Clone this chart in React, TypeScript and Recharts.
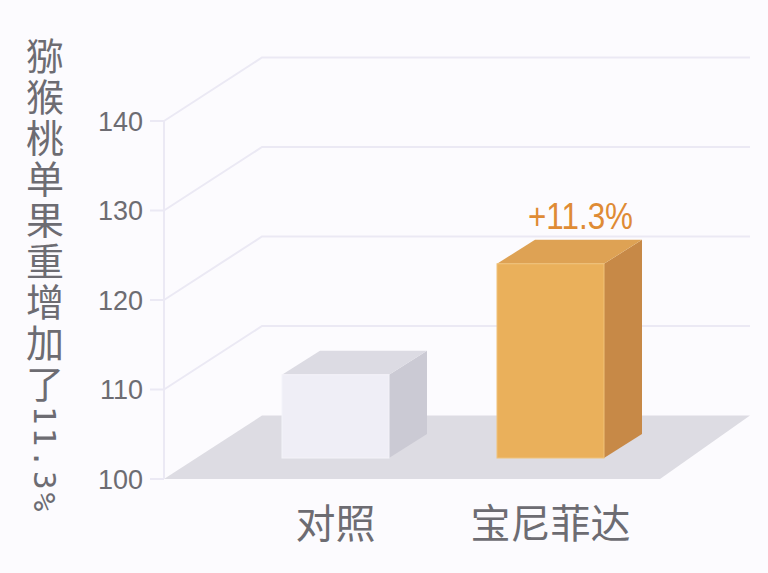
import React from 'react';
import { BarChart, Bar, XAxis, YAxis, CartesianGrid, LabelList } from 'recharts';

// ---- data ----
const categories = ['对照', '宝尼菲达'];
const fruitWeight = [109.3, 121.7];
const barLabels = ['', '+11.3%'];
const yTicks = [100, 110, 120, 130, 140];
const yTitleCJK = '猕猴桃单果重增加了';
const yTitleNum = '11.3%';

// ---- styles ----
const faceColors = [
  { front: '#efeef6', top: '#dcdbe3', side: '#cbcad4', edge: '#f4f3f9' },
  { front: '#eab05b', top: '#dea254', side: '#c78947', edge: '#f0c27a' },
];
const GRID = '#ebe9f4';
const FLOOR = '#dddce3';
const TEXT = '#6d6c72';
const ORANGE = '#df8b35';
const BG = '#fcfbfe';

// perspective offsets
const WALL_DX = 98;
const WALL_DY = -63.5;
const WALL_DX_RIGHT = 90;
const SHIFT_X = 32;
const SHIFT_Y = -21;
const DEPTH_X = 38;
const DEPTH_Y = -24;

const data = categories.map((name, i) => ({ name, value: fruitWeight[i], label: barLabels[i] }));

const GridLine = (props: any) => {
  const { x1, x2, y1, index } = props;
  const bottom = props.y != null && props.height != null ? props.y + props.height : null;
  const isFloor = bottom != null ? Math.abs(y1 - bottom) < 0.6 : index === 0;
  if (isFloor) {
    const pts = [
      [x1, y1],
      [x2, y1],
      [x2 + WALL_DX_RIGHT, y1 + WALL_DY],
      [x1 + WALL_DX, y1 + WALL_DY],
    ]
      .map((p) => p.join(','))
      .join(' ');
    return <polygon key={`floor-${index}`} points={pts} fill={FLOOR} />;
  }
  return (
    <polyline
      key={`gl-${index}`}
      points={`${x1},${y1} ${x1 + WALL_DX},${y1 + WALL_DY} ${x2 + WALL_DX_RIGHT},${y1 + WALL_DY}`}
      fill="none"
      stroke={GRID}
      strokeWidth={2}
    />
  );
};

const Box3D = (props: any) => {
  const { x, y, width, height, payload } = props;
  const idx = Math.max(0, categories.indexOf(payload?.name));
  const c = faceColors[idx];
  const fx = x + SHIFT_X;
  const fy = y + SHIFT_Y;
  const top = [
    [fx, fy],
    [fx + width, fy],
    [fx + width + DEPTH_X, fy + DEPTH_Y],
    [fx + DEPTH_X, fy + DEPTH_Y],
  ]
    .map((p) => p.join(','))
    .join(' ');
  const side = [
    [fx + width, fy],
    [fx + width + DEPTH_X, fy + DEPTH_Y],
    [fx + width + DEPTH_X, fy + height + DEPTH_Y],
    [fx + width, fy + height],
  ]
    .map((p) => p.join(','))
    .join(' ');
  return (
    <g>
      <polygon points={side} fill={c.side} />
      <polygon points={top} fill={c.top} />
      <rect x={fx} y={fy} width={width} height={height} fill={c.front} stroke={c.edge} strokeWidth={1} />
    </g>
  );
};

const BarLabel = (props: any) => {
  const { x, y, width, value } = props;
  if (!value) return null;
  return (
    <text
      x={x + SHIFT_X + width / 2 + 30}
      y={y + SHIFT_Y - 35}
      textAnchor="middle"
      fill={ORANGE}
      fontSize={37}
      fontFamily="'Liberation Sans', Arial, sans-serif"
      textLength={105}
      lengthAdjust="spacingAndGlyphs"
    >
      {value}
    </text>
  );
};

const XTick = (props: any) => {
  const { x, y, payload } = props;
  return (
    <text
      x={x + SHIFT_X}
      y={y + 59}
      textAnchor="middle"
      fill={TEXT}
      fontSize={40}
      fontFamily="'Noto Sans CJK SC', sans-serif"
    >
      {payload.value}
    </text>
  );
};

const YTitle = () => (
  <text
    x={45}
    y={37}
    fill={TEXT}
    fontSize={38}
    fontFamily="'Noto Sans CJK SC', sans-serif"
    style={{ writingMode: 'vertical-rl' as any }}
    letterSpacing={3}
  >
    {yTitleCJK}
    <tspan fontFamily="'DejaVu Sans Mono', monospace" fontWeight={300} fontSize={31} letterSpacing={3}>
      {yTitleNum}
    </tspan>
  </text>
);

export default function App() {
  return (
    <div style={{ position: 'absolute', left: 0, top: 0, width: 768, height: 573, background: BG }}>
      <BarChart width={768} height={573} data={data} margin={{ top: 121, right: 108, bottom: 34, left: 0 }}>
        <CartesianGrid vertical={false} horizontal={GridLine as any} />
        <XAxis
          dataKey="name"
          axisLine={false}
          tickLine={false}
          tickSize={0}
          tickMargin={0}
          height={60}
          padding={{ left: 32, right: 34 }}
          tick={<XTick />}
          interval={0}
        />
        <YAxis
          type="number"
          domain={[100, 140]}
          ticks={yTicks}
          width={164}
          tickSize={14}
          tickMargin={7}
          axisLine={{ stroke: GRID, strokeWidth: 2 }}
          tickLine={{ stroke: GRID, strokeWidth: 2 }}
          tick={{ fill: TEXT, fontSize: 27, fontFamily: "'Liberation Sans', Arial, sans-serif" }}
          allowDataOverflow
          label={{ content: () => <YTitle /> } as any}
        />
        <Bar dataKey="value" barSize={107} shape={<Box3D />} isAnimationActive={false}>
          <LabelList dataKey="label" content={<BarLabel />} />
        </Bar>
      </BarChart>
    </div>
  );
}
